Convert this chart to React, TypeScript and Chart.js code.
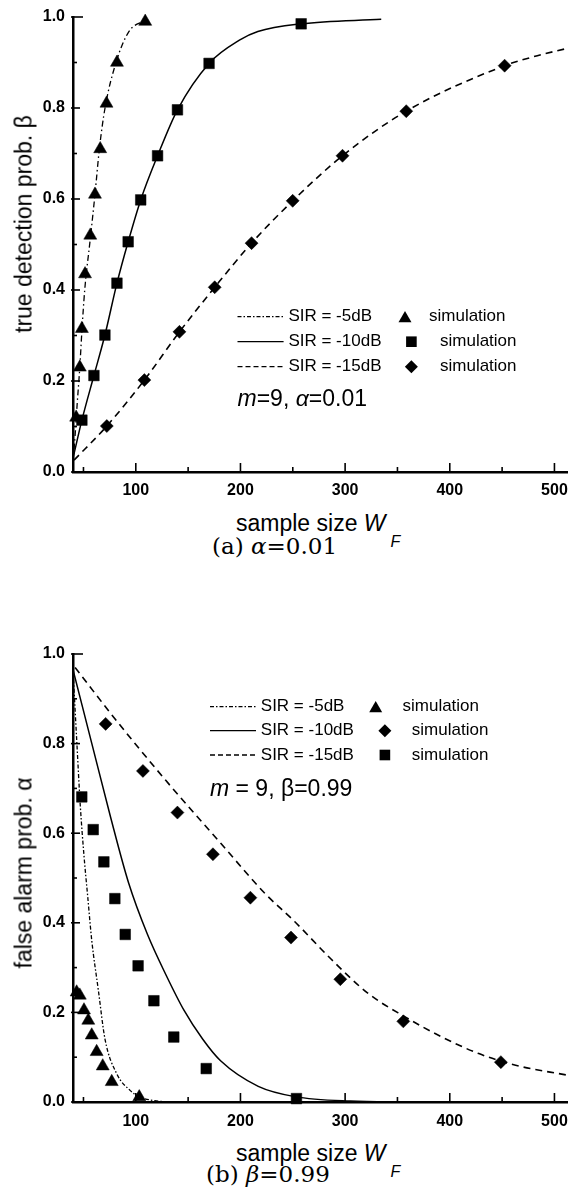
import { useEffect, useRef } from 'react';
import { Chart, registerables } from 'chart.js';

Chart.register(...registerables);

// ---------- shared axes ----------
const X_MIN = 40;
const X_MAX = 512;
const X_TICKS = [100, 200, 300, 400, 500];
const X_MINOR = [50, 150, 250, 350, 450];
const Y_TICKS = [0, 0.2, 0.4, 0.6, 0.8, 1.0];
const Y_MINOR = [0.1, 0.3, 0.5, 0.7, 0.9];

const SIR_LABELS = ['SIR = -5dB', 'SIR = -10dB', 'SIR = -15dB'];
const SIM_LABEL = 'simulation';

// ---------- (a) alpha = 0.01 ----------
const A_TRI_X = [43, 46.5, 48.5, 51.5, 56.5, 61, 66, 72, 82, 109];
const A_TRI_Y = [0.12, 0.23, 0.315, 0.435, 0.52, 0.61, 0.71, 0.81, 0.9, 0.99];
const A_SQR_X = [48.5, 60, 70.5, 82, 92.7, 104.7, 120.8, 139.8, 170, 258];
const A_SQR_Y = [0.114, 0.212, 0.301, 0.415, 0.506, 0.598, 0.695, 0.796, 0.898, 0.985];
const A_DIA_X = [72.3, 108.2, 141.7, 175.4, 210.6, 249.9, 297.5, 358.4, 452.4];
const A_DIA_Y = [0.101, 0.202, 0.308, 0.406, 0.503, 0.596, 0.695, 0.793, 0.893];

const A_C5_X = [40, 42, 44, 46.5, 48.5, 51.2, 56.4, 61, 65.2, 70.6, 81.1, 93.4, 109.3];
const A_C5_Y = [0.02, 0.08, 0.15, 0.23, 0.31, 0.4, 0.51, 0.61, 0.71, 0.8, 0.9, 0.968, 0.993];
const A_C10_X = [40, 48.5, 60, 70.5, 82, 92.7, 104.7, 120.8, 139.8, 170, 199, 216.6, 258, 334.5];
const A_C10_Y = [0.03, 0.114, 0.212, 0.301, 0.415, 0.506, 0.598, 0.695, 0.796, 0.898, 0.949, 0.968, 0.985, 0.995];
const A_C15_X = [41, 72.3, 108.2, 141.7, 175.4, 210.6, 249.9, 297.5, 358.4, 452.4, 480.4, 512];
const A_C15_Y = [0.026, 0.101, 0.202, 0.308, 0.406, 0.503, 0.596, 0.695, 0.793, 0.893, 0.913, 0.931];

// ---------- (b) beta = 0.99 ----------
const B_TRI_X = [43.5, 46.5, 50.5, 54.6, 57.9, 62.6, 68.4, 77, 103.3];
const B_TRI_Y = [0.245, 0.238, 0.205, 0.182, 0.149, 0.112, 0.08, 0.045, 0.011];
const B_DIA_X = [71.2, 106.8, 139.8, 173.7, 209.5, 248.3, 295.4, 355.6, 448.8];
const B_DIA_Y = [0.844, 0.739, 0.646, 0.553, 0.456, 0.367, 0.274, 0.18, 0.089];
const B_SQR_X = [48.4, 59.3, 69.5, 80, 89.9, 102.2, 117.3, 136.3, 167.3, 253.5];
const B_SQR_Y = [0.681, 0.608, 0.536, 0.454, 0.374, 0.304, 0.226, 0.145, 0.0746, 0.0076];

const B_C5_X = [40, 43.5, 47, 50.5, 54, 57.9, 64.2, 70.6, 81.8, 94.5, 104, 118, 135];
const B_C5_Y = [0.965, 0.81, 0.66, 0.55, 0.46, 0.361, 0.25, 0.14, 0.063, 0.026, 0.011, 0.003, 0.0];
const B_C10_X = [40, 58, 76, 93, 111, 129, 146, 164, 181, 217, 252, 305, 360];
const B_C10_Y = [0.965, 0.8, 0.635, 0.49, 0.375, 0.283, 0.205, 0.14, 0.092, 0.035, 0.012, 0.002, 0.0];
const B_C15_X = [42, 75.8, 128.6, 181.4, 223.6, 251.7, 287, 322.2, 357.3, 392.6, 427.7, 462.9, 512];
const B_C15_Y = [0.97, 0.868, 0.718, 0.577, 0.465, 0.403, 0.318, 0.242, 0.19, 0.145, 0.108, 0.082, 0.06];

// ---------- styling ----------
const SANS = "'Liberation Sans', Arial, sans-serif";
const SERIF = "'DejaVu Serif', 'Liberation Serif', serif";
const DASH_DOT = [6, 3, 1.5, 3];
const DASH_DOT_LEG = [4, 2, 1.5, 2];
const DASHED = [7, 5];
const SOLID: number[] = [];

type MarkerStyle = 'triangle' | 'rect' | 'rectRot';
const MARKER_R: Record<MarkerStyle, number> = { triangle: 7.5, rect: 7.5, rectRot: 6.5 };

const toPts = (xs: number[], ys: number[]) => xs.map((x, i) => ({ x, y: ys[i] }));

function drawMarker(ctx: CanvasRenderingContext2D, style: MarkerStyle, x: number, y: number) {
  const r = MARKER_R[style];
  ctx.beginPath();
  if (style === 'triangle') {
    const yc = y + r / 4;
    ctx.moveTo(x, yc - r);
    ctx.lineTo(x + r * 0.866, yc + r / 2);
    ctx.lineTo(x - r * 0.866, yc + r / 2);
  } else if (style === 'rect') {
    const s = r * Math.SQRT1_2;
    ctx.rect(x - s, y - s, 2 * s, 2 * s);
  } else {
    ctx.moveTo(x - r, y);
    ctx.lineTo(x, y - r);
    ctx.lineTo(x + r, y);
    ctx.lineTo(x, y + r);
  }
  ctx.closePath();
  ctx.fill();
}

interface SimSet { xs: number[]; ys: number[]; style: MarkerStyle }
interface CurveSet { xs: number[]; ys: number[]; dash: number[]; width: number }
interface LegendRow { label: string; dash: number[]; marker: MarkerStyle; y: number; markerX: number; simX: number }
interface NotePart { t: string; it: boolean }
interface PanelProps {
  top: number;
  height: number;
  padTop: number;
  xAxisH: number;
  xTickPad: number;
  sims: SimSet[];
  curves: CurveSet[];
  legend: { lineX0: number; lineX1: number; textX: number; rows: LegendRow[] };
  note: { x: number; y: number; parts: NotePart[] };
}

function Panel(p: PanelProps) {
  const ref = useRef<HTMLCanvasElement>(null);
  useEffect(() => {
    const canvas = ref.current;
    if (!canvas) return;
    const decor = {
      id: 'decor',
      afterDraw(chart: any) {
        const { ctx, chartArea: ca, scales } = chart;
        const sx = scales.x;
        const sy = scales.y;
        ctx.save();
        ctx.strokeStyle = '#000';
        ctx.fillStyle = '#000';
        ctx.setLineDash([]);
        ctx.lineWidth = 1.6;
        const seg = (x0: number, y0: number, x1: number, y1: number) => {
          ctx.beginPath();
          ctx.moveTo(x0, y0);
          ctx.lineTo(x1, y1);
          ctx.stroke();
        };
        Y_TICKS.forEach((v) => {
          const py = sy.getPixelForValue(v);
          seg(ca.left - 2, py, ca.left + (v === 1 ? 10 : 7), py);
        });
        Y_MINOR.forEach((v) => {
          const py = sy.getPixelForValue(v);
          seg(ca.left, py, ca.left + 4, py);
        });
        X_TICKS.forEach((v) => {
          const px = sx.getPixelForValue(v);
          seg(px, ca.bottom + 1, px, ca.bottom - 9);
        });
        X_MINOR.forEach((v) => {
          const px = sx.getPixelForValue(v);
          seg(px, ca.bottom, px, ca.bottom - 5);
        });

        // legend
        const lg = p.legend;
        ctx.font = `17px ${SANS}`;
        ctx.textBaseline = 'middle';
        ctx.textAlign = 'left';
        lg.rows.forEach((row) => {
          ctx.lineWidth = 1.3;
          ctx.setLineDash(row.dash);
          seg(lg.lineX0, row.y, lg.lineX1, row.y);
          ctx.setLineDash([]);
          ctx.fillText(row.label, lg.textX, row.y);
          drawMarker(ctx, row.marker, row.markerX, row.y);
          ctx.fillText(SIM_LABEL, row.simX, row.y);
        });

        // note
        let nx = p.note.x;
        p.note.parts.forEach((part) => {
          ctx.font = `${part.it ? 'italic ' : ''}23px ${SANS}`;
          ctx.fillText(part.t, nx, p.note.y);
          nx += ctx.measureText(part.t).width;
        });
        ctx.restore();
      },
    };

    const datasets: any[] = [];
    p.sims.forEach((s) => {
      datasets.push({
        data: toPts(s.xs, s.ys),
        showLine: false,
        pointStyle: s.style,
        pointRadius: MARKER_R[s.style],
        pointBackgroundColor: '#000',
        pointBorderColor: '#000',
        pointBorderWidth: 0.5,
        clip: false,
      });
    });
    p.curves.forEach((c) => {
      datasets.push({
        data: toPts(c.xs, c.ys),
        showLine: true,
        pointRadius: 0,
        borderColor: '#000',
        borderWidth: c.width,
        borderDash: c.dash,
        cubicInterpolationMode: 'monotone',
        fill: false,
      });
    });

    const tickFont = { family: SANS, size: 16, weight: 'bold' };
    const chart = new Chart(canvas, {
      type: 'scatter',
      data: { datasets },
      options: {
        animation: false,
        responsive: false,
        events: [],
        layout: { padding: { top: p.padTop, right: 11, left: 0, bottom: 0 } },
        plugins: { legend: { display: false }, tooltip: { enabled: false } },
        scales: {
          x: {
            type: 'linear',
            min: X_MIN,
            max: X_MAX,
            grid: { display: false, drawTicks: false },
            border: { display: true, color: '#000', width: 2.5 },
            afterBuildTicks: (s: any) => {
              s.ticks = X_TICKS.map((v) => ({ value: v }));
            },
            afterFit: (s: any) => {
              s.height = p.xAxisH;
              s.paddingLeft = 0;
              s.paddingRight = 0;
            },
            ticks: {
              color: '#000',
              font: tickFont,
              padding: p.xTickPad,
              maxRotation: 0,
              autoSkip: false,
              callback: (v: any) => String(v),
            },
          },
          y: {
            type: 'linear',
            min: 0,
            max: 1,
            grid: { display: false, drawTicks: false },
            border: { display: true, color: '#000', width: 2.5 },
            afterBuildTicks: (s: any) => {
              s.ticks = Y_TICKS.map((v) => ({ value: v }));
            },
            afterFit: (s: any) => {
              s.width = 73;
              s.paddingTop = 0;
              s.paddingBottom = 0;
            },
            ticks: {
              color: '#000',
              font: tickFont,
              padding: 8,
              autoSkip: false,
              callback: (v: any) => Number(v).toFixed(1),
            },
          },
        },
      } as any,
      plugins: [decor],
    });
    return () => chart.destroy();
  }, []);
  return (
    <canvas
      ref={ref}
      width={578}
      height={p.height}
      style={{ position: 'absolute', left: 0, top: p.top, display: 'block' }}
    />
  );
}

const abs = (left: number, top: number): React.CSSProperties => ({
  position: 'absolute',
  left,
  top,
  whiteSpace: 'nowrap',
  color: '#000',
});

function XTitle({ baseline }: { baseline: number }) {
  return (
    <div style={{ ...abs(236, baseline - 19.5), font: `23px ${SANS}`, lineHeight: '23px' }}>
      sample size <i>W</i>
      <i style={{ fontSize: 16, position: 'relative', top: 16, marginLeft: 5 }}>F</i>
    </div>
  );
}

function YTitle({ cx, cy, text }: { cx: number; cy: number; text: string }) {
  return (
    <div
      style={{
        ...abs(cx, cy),
        font: `23px ${SANS}`,
        lineHeight: '23px',
        transform: 'translate(-50%, -50%) rotate(-90deg)',
      }}
    >
      {text}
    </div>
  );
}

export default function App() {
  return (
    <div style={{ position: 'absolute', left: 0, top: 0, width: 578, height: 1187, background: '#fff', overflow: 'hidden' }}>
      <Panel
        top={0}
        height={505}
        padTop={17}
        xAxisH={33}
        xTickPad={9}
        sims={[
          { xs: A_TRI_X, ys: A_TRI_Y, style: 'triangle' },
          { xs: A_SQR_X, ys: A_SQR_Y, style: 'rect' },
          { xs: A_DIA_X, ys: A_DIA_Y, style: 'rectRot' },
        ]}
        curves={[
          { xs: A_C5_X, ys: A_C5_Y, dash: DASH_DOT, width: 1.3 },
          { xs: A_C10_X, ys: A_C10_Y, dash: SOLID, width: 1.5 },
          { xs: A_C15_X, ys: A_C15_Y, dash: DASHED, width: 1.6 },
        ]}
        legend={{
          lineX0: 237.5,
          lineX1: 283.6,
          textX: 288.4,
          rows: [
            { label: SIR_LABELS[0], dash: DASH_DOT_LEG, marker: 'triangle', y: 316.7, markerX: 405, simX: 429 },
            { label: SIR_LABELS[1], dash: SOLID, marker: 'rect', y: 341.7, markerX: 411.4, simX: 440 },
            { label: SIR_LABELS[2], dash: [5, 3], marker: 'rectRot', y: 366.7, markerX: 411.4, simX: 440 },
          ],
        }}
        note={{
          x: 237.5,
          y: 400,
          parts: [
            { t: 'm', it: true },
            { t: '=9, ', it: false },
            { t: 'α', it: true },
            { t: '=0.01', it: false },
          ],
        }}
      />
      <Panel
        top={620}
        height={510}
        padTop={34}
        xAxisH={28}
        xTickPad={10}
        sims={[
          { xs: B_TRI_X, ys: B_TRI_Y, style: 'triangle' },
          { xs: B_DIA_X, ys: B_DIA_Y, style: 'rectRot' },
          { xs: B_SQR_X, ys: B_SQR_Y, style: 'rect' },
        ]}
        curves={[
          { xs: B_C5_X, ys: B_C5_Y, dash: DASH_DOT_LEG, width: 1.3 },
          { xs: B_C10_X, ys: B_C10_Y, dash: SOLID, width: 1.5 },
          { xs: B_C15_X, ys: B_C15_Y, dash: DASHED, width: 1.6 },
        ]}
        legend={{
          lineX0: 210,
          lineX1: 256,
          textX: 260.8,
          rows: [
            { label: SIR_LABELS[0], dash: DASH_DOT_LEG, marker: 'triangle', y: 86.7, markerX: 375.7, simX: 402.5 },
            { label: SIR_LABELS[1], dash: SOLID, marker: 'rectRot', y: 110.7, markerX: 384.9, simX: 411.8 },
            { label: SIR_LABELS[2], dash: [5, 3], marker: 'rect', y: 135, markerX: 384.9, simX: 411.8 },
          ],
        }}
        note={{
          x: 210,
          y: 170,
          parts: [
            { t: 'm', it: true },
            { t: ' = 9, β=0.99', it: false },
          ],
        }}
      />
      <YTitle cx={24} cy={224} text="true detection prob. β" />
      <YTitle cx={24} cy={873} text="false alarm prob. α" />
      <XTitle baseline={531} />
      <XTitle baseline={1161} />
      <div style={{ ...abs(212, 534.5), font: `23px ${SERIF}`, lineHeight: '23px' }}>
        (a) <i>α</i>=0.01
      </div>
      <div style={{ ...abs(206, 1162.5), font: `23px ${SERIF}`, lineHeight: '23px' }}>
        (b) <i>β</i>=0.99
      </div>
    </div>
  );
}
